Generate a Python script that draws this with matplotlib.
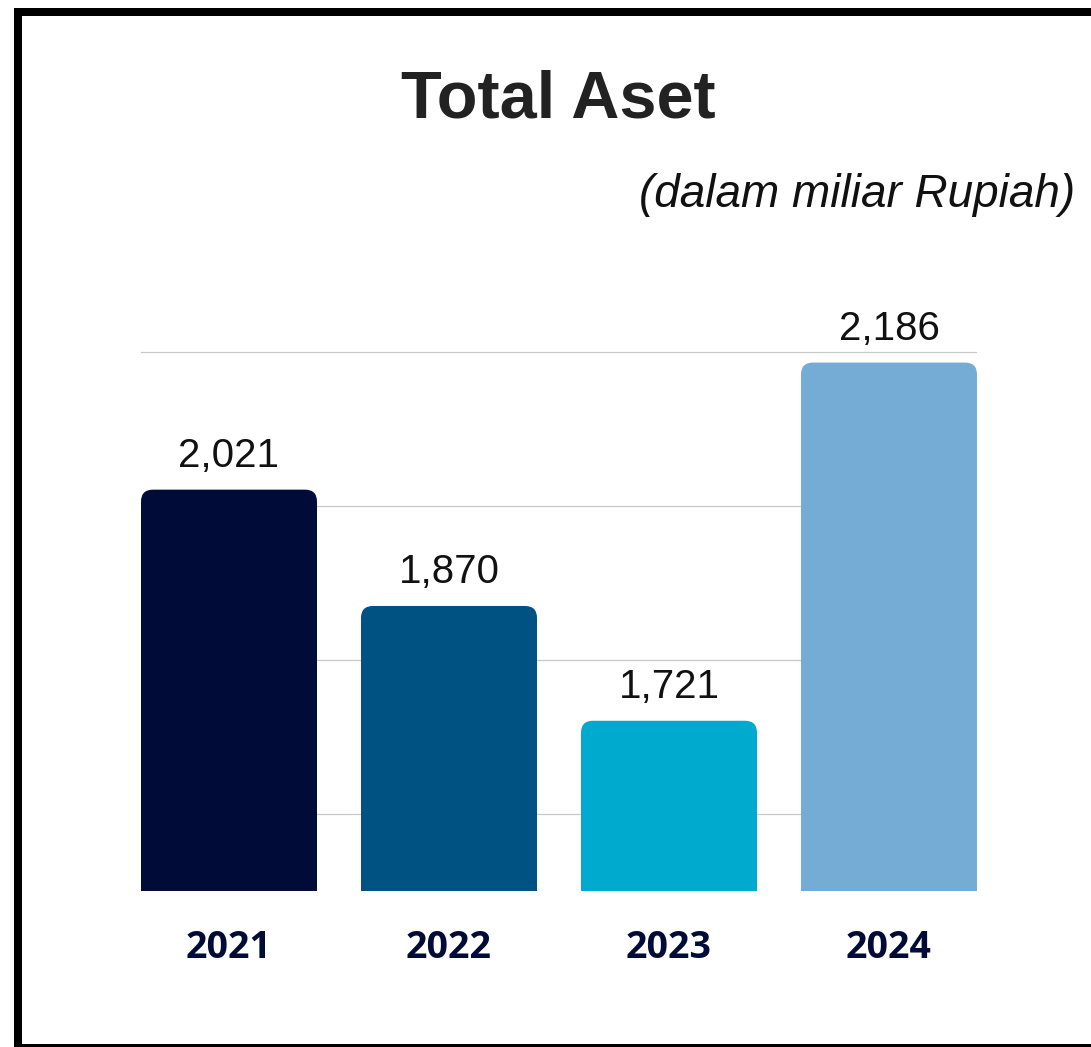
import matplotlib
matplotlib.use("Agg")
import matplotlib.pyplot as plt
from matplotlib.patches import FancyBboxPatch, Rectangle

years = ["2021", "2022", "2023", "2024"]
values = [2021, 1870, 1721, 2186]
value_labels = ["2,021", "1,870", "1,721", "2,186"]
colors = ["#000B37", "#005282", "#00A9CE", "#75ACD5"]
grid_ticks = [1600, 1800, 2000, 2200]

W, H = 1091, 1047
fig = plt.figure(figsize=(W / 100, H / 100), dpi=100)
fig.patch.set_facecolor("white")

ax = fig.add_axes([141 / W, (H - 891) / H, 836 / W, (891 - 351) / H])
ax.set_xlim(-0.4, 3.4)
ax.set_ylim(1500, 2201)

bars = ax.bar(range(len(values)), values, width=0.8, color=colors, zorder=3)

# convert bars to rounded-top bars
fig.canvas.draw()
px_x = ax.transData.transform((1, 1500))[0] - ax.transData.transform((0, 1500))[0]
px_y = ax.transData.transform((0, 1501))[1] - ax.transData.transform((0, 1500))[1]
r_px = 12
r = r_px / px_x
aspect = px_x / px_y
for rect, c in zip(bars, colors):
    x, w, h = rect.get_x(), rect.get_width(), rect.get_height()
    rect.set_visible(False)
    p = FancyBboxPatch((x, 1200), w, h - 1200,
                       boxstyle=f"round,pad=0,rounding_size={r}",
                       mutation_aspect=aspect, facecolor=c, edgecolor="none",
                       zorder=3)
    ax.add_patch(p)

for i, (v, lab) in enumerate(zip(values, value_labels)):
    ax.annotate(lab, (i, v), xytext=(0, 23 * 0.72), textcoords="offset points",
                ha="center", va="baseline", fontsize=29,
                family="Liberation Sans", color="#111111", annotation_clip=False)

ax.set_yticks(grid_ticks)
ax.yaxis.grid(True, color="#c8c8c8", linewidth=0.9, zorder=0)
ax.set_axisbelow(True)
ax.tick_params(axis="y", left=False, labelleft=False)
ax.set_xticks(range(len(years)))
ax.set_xticklabels(years, fontsize=27, fontweight="bold", family="Open Sans",
                   color="#000B37")
ax.tick_params(axis="x", bottom=False, pad=24)
for s in ax.spines.values():
    s.set_visible(False)

fig.text(558 / W, 1 - 118 / H, "Total Aset", ha="center", va="baseline",
         fontsize=48, fontweight="bold", family="Liberation Sans", color="#222222")
fig.text(1075 / W, 1 - 207 / H, "(dalam miliar Rupiah)", ha="right", va="baseline",
         fontsize=33, style="italic", family="Liberation Sans", color="#111111")

border = Rectangle((18 / W, -1 / H), (1120 - 18) / W, (1048 - 12) / H,
                   transform=fig.transFigure, fill=False, edgecolor="black",
                   linewidth=8 * 0.72, clip_on=False)
fig.patches.append(border)

fig.savefig("out.png", dpi=100)
